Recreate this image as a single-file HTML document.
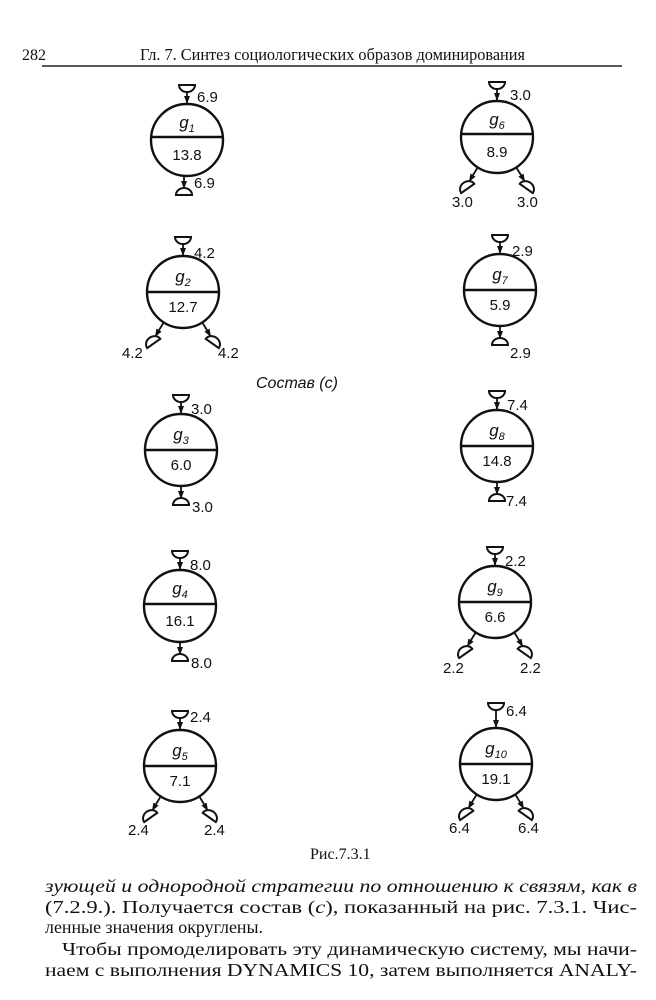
<!DOCTYPE html>
<html><head><meta charset="utf-8"><style>
html,body{margin:0;padding:0;background:#fff}
svg{display:block}
text{font-family:"Liberation Sans","DejaVu Sans",sans-serif;fill:#111}
.n{font-size:15px}
.s,.s text{font-family:"Liberation Serif",serif;font-size:18px}
</style></head><body>
<svg width="656" height="1000" viewBox="0 0 656 1000" xmlns="http://www.w3.org/2000/svg">
<defs>
<g id="cup"><path d="M-8,-7 L8,-7 A8,7 0 0 1 -8,-7 Z" fill="none" stroke="#111" stroke-width="2"/></g>
<g id="dome"><path d="M-8,3 A8,7 0 0 1 8,3 Z" fill="none" stroke="#111" stroke-width="2"/></g>
<path id="ah" d="M0,0 L-3,-8 L3,-8 Z" fill="#111"/>
</defs>
<text x="22" y="60" class="s" style="font-size:16px">282</text>
<text x="140" y="60" class="s" textLength="385" lengthAdjust="spacingAndGlyphs" style="font-size:17px">Гл. 7. Синтез социологических образов доминирования</text>
<line x1="42" y1="66" x2="622" y2="66" stroke="#222" stroke-width="1.5"/>

<g stroke="#111" stroke-width="2.4" fill="none">
<circle cx="187" cy="140" r="36"/><line x1="151" y1="137" x2="223" y2="137"/>
<circle cx="497" cy="137" r="36"/><line x1="461" y1="134" x2="533" y2="134"/>
<circle cx="183" cy="292" r="36"/><line x1="147" y1="292" x2="219" y2="292"/>
<circle cx="500" cy="290" r="36"/><line x1="464" y1="290" x2="536" y2="290"/>
<circle cx="181" cy="450" r="36"/><line x1="145" y1="450" x2="217" y2="450"/>
<circle cx="497" cy="446" r="36"/><line x1="461" y1="446" x2="533" y2="446"/>
<circle cx="180" cy="606" r="36"/><line x1="144" y1="604" x2="216" y2="604"/>
<circle cx="495" cy="602" r="36"/><line x1="459" y1="602" x2="531" y2="602"/>
<circle cx="180" cy="766" r="36"/><line x1="144" y1="766" x2="216" y2="766"/>
<circle cx="496" cy="764" r="36"/><line x1="460" y1="764" x2="532" y2="764"/>
</g>

<g class="n" text-anchor="middle" font-style="italic">
<text x="187" y="128" style="font-size:17px">g<tspan font-size="11" dy="4">1</tspan></text>
<text x="497" y="125" style="font-size:17px">g<tspan font-size="11" dy="4">6</tspan></text>
<text x="183" y="282" style="font-size:17px">g<tspan font-size="11" dy="4">2</tspan></text>
<text x="500" y="280" style="font-size:17px">g<tspan font-size="11" dy="4">7</tspan></text>
<text x="181" y="440" style="font-size:17px">g<tspan font-size="11" dy="4">3</tspan></text>
<text x="497" y="436" style="font-size:17px">g<tspan font-size="11" dy="4">8</tspan></text>
<text x="180" y="594" style="font-size:17px">g<tspan font-size="11" dy="4">4</tspan></text>
<text x="495" y="592" style="font-size:17px">g<tspan font-size="11" dy="4">9</tspan></text>
<text x="180" y="756" style="font-size:17px">g<tspan font-size="11" dy="4">5</tspan></text>
<text x="496" y="754" style="font-size:17px">g<tspan font-size="11" dy="4">10</tspan></text>
</g>
<g class="n" text-anchor="middle">
<text x="187" y="160">13.8</text>
<text x="497" y="157">8.9</text>
<text x="183" y="312">12.7</text>
<text x="500" y="310">5.9</text>
<text x="181" y="470">6.0</text>
<text x="497" y="466">14.8</text>
<text x="180" y="626">16.1</text>
<text x="495" y="622">6.6</text>
<text x="180" y="786">7.1</text>
<text x="496" y="784">19.1</text>
</g>

<g stroke="#111" stroke-width="1.8">
<line x1="187" y1="92" x2="187" y2="104"/><line x1="497" y1="89" x2="497" y2="101"/>
<line x1="183" y1="244" x2="183" y2="256"/><line x1="500" y1="242" x2="500" y2="254"/>
<line x1="181" y1="402" x2="181" y2="414"/><line x1="497" y1="398" x2="497" y2="410"/>
<line x1="180" y1="558" x2="180" y2="570"/><line x1="495" y1="554" x2="495" y2="566"/>
<line x1="180" y1="718" x2="180" y2="730"/><line x1="496" y1="710" x2="496" y2="728"/>
</g>
<use href="#cup" x="187" y="92"/><use href="#ah" x="187" y="104"/>
<use href="#cup" x="497" y="89"/><use href="#ah" x="497" y="101"/>
<use href="#cup" x="183" y="244"/><use href="#ah" x="183" y="256"/>
<use href="#cup" x="500" y="242"/><use href="#ah" x="500" y="254"/>
<use href="#cup" x="181" y="402"/><use href="#ah" x="181" y="414"/>
<use href="#cup" x="497" y="398"/><use href="#ah" x="497" y="410"/>
<use href="#cup" x="180" y="558"/><use href="#ah" x="180" y="570"/>
<use href="#cup" x="495" y="554"/><use href="#ah" x="495" y="566"/>
<use href="#cup" x="180" y="718"/><use href="#ah" x="180" y="730"/>
<use href="#cup" x="496" y="710"/><use href="#ah" x="496" y="728"/>
<g class="n">
<text x="197" y="102">6.9</text><text x="510" y="100">3.0</text>
<text x="194" y="258">4.2</text><text x="512" y="256">2.9</text>
<text x="191" y="414">3.0</text><text x="507" y="410">7.4</text>
<text x="190" y="570">8.0</text><text x="505" y="566">2.2</text>
<text x="190" y="722">2.4</text><text x="506" y="716">6.4</text>
</g>

<g stroke="#111" stroke-width="1.8">
<line x1="184" y1="176" x2="184" y2="188"/>
<line x1="500" y1="326" x2="500" y2="338"/>
<line x1="181" y1="486" x2="181" y2="498"/>
<line x1="497" y1="482" x2="497" y2="494"/>
<line x1="180" y1="642" x2="180" y2="654"/>
</g>
<use href="#ah" x="184" y="189"/><use href="#dome" x="184" y="192"/>
<use href="#ah" x="500" y="339"/><use href="#dome" x="500" y="342"/>
<use href="#ah" x="181" y="499"/><use href="#dome" x="181" y="502"/>
<use href="#ah" x="497" y="495"/><use href="#dome" x="497" y="498"/>
<use href="#ah" x="180" y="655"/><use href="#dome" x="180" y="658"/>
<g class="n">
<text x="194" y="188">6.9</text><text x="510" y="358">2.9</text>
<text x="192" y="512">3.0</text><text x="506" y="506">7.4</text>
<text x="191" y="668">8.0</text>
</g>

<g stroke="#111" stroke-width="1.8">
<line x1="478" y1="167" x2="470" y2="180"/><line x1="516" y1="167" x2="524" y2="180"/>
<line x1="164" y1="322" x2="156" y2="335"/><line x1="202" y1="322" x2="210" y2="335"/>
<line x1="476" y1="632" x2="468" y2="645"/><line x1="514" y1="632" x2="522" y2="645"/>
<line x1="161" y1="796" x2="153" y2="809"/><line x1="199" y1="796" x2="207" y2="809"/>
<line x1="477" y1="794" x2="469" y2="807"/><line x1="515" y1="794" x2="523" y2="807"/>
</g>
<g>
<use href="#ah" transform="translate(469,182) rotate(30)"/><use href="#dome" transform="translate(466,186) rotate(-35)"/>
<use href="#ah" transform="translate(525,182) rotate(-30)"/><use href="#dome" transform="translate(528,186) rotate(35)"/>
<use href="#ah" transform="translate(155,337) rotate(30)"/><use href="#dome" transform="translate(152,341) rotate(-35)"/>
<use href="#ah" transform="translate(211,337) rotate(-30)"/><use href="#dome" transform="translate(214,341) rotate(35)"/>
<use href="#ah" transform="translate(467,647) rotate(30)"/><use href="#dome" transform="translate(464,651) rotate(-35)"/>
<use href="#ah" transform="translate(523,647) rotate(-30)"/><use href="#dome" transform="translate(526,651) rotate(35)"/>
<use href="#ah" transform="translate(152,811) rotate(30)"/><use href="#dome" transform="translate(149,815) rotate(-35)"/>
<use href="#ah" transform="translate(208,811) rotate(-30)"/><use href="#dome" transform="translate(211,815) rotate(35)"/>
<use href="#ah" transform="translate(468,809) rotate(30)"/><use href="#dome" transform="translate(465,813) rotate(-35)"/>
<use href="#ah" transform="translate(524,809) rotate(-30)"/><use href="#dome" transform="translate(527,813) rotate(35)"/>
</g>
<g class="n">
<text x="452" y="207">3.0</text><text x="517" y="207">3.0</text>
<text x="122" y="358">4.2</text><text x="218" y="358">4.2</text>
<text x="443" y="673">2.2</text><text x="520" y="673">2.2</text>
<text x="128" y="835">2.4</text><text x="204" y="835">2.4</text>
<text x="449" y="833">6.4</text><text x="518" y="833">6.4</text>
</g>

<text x="256" y="388" style="font-size:16px;font-style:italic">Состав (с)</text>
<text x="310" y="859" class="s" style="font-size:16px">Рис.7.3.1</text>

<g class="s">
<text x="45" y="892" textLength="592" lengthAdjust="spacingAndGlyphs" font-style="italic">зующей и однородной стратегии по отношению к связям, как в</text>
<text x="45" y="913" textLength="592" lengthAdjust="spacingAndGlyphs">(7.2.9.). Получается состав (<tspan font-style="italic">c</tspan>), показанный на рис. 7.3.1. Чис-</text>
<text x="45" y="933" textLength="218" lengthAdjust="spacingAndGlyphs">ленные значения округлены.</text>
<text x="62" y="955" textLength="575" lengthAdjust="spacingAndGlyphs">Чтобы промоделировать эту динамическую систему, мы начи-</text>
<text x="45" y="976" textLength="592" lengthAdjust="spacingAndGlyphs">наем с выполнения DYNAMICS 10, затем выполняется ANALY-</text>
</g>
</svg>
</body></html>
